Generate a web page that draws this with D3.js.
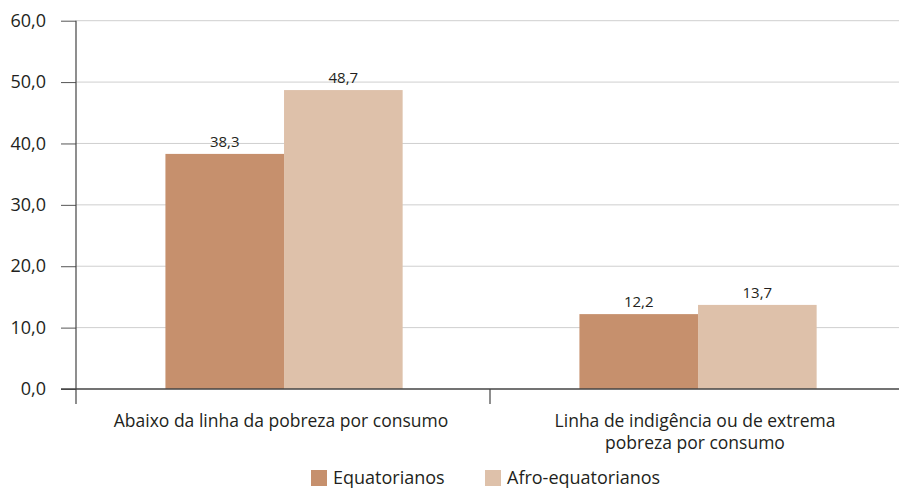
<!DOCTYPE html>
<html><head><meta charset="utf-8">
<script src="https://cdn.jsdelivr.net/npm/d3@7"></script>
<style>body{margin:0;background:#fff}svg{display:block}text{font-family:"Open Sans","Noto Sans",sans-serif;fill:#231f20}</style>
</head><body><svg id="c" width="899" height="489"></svg>
<script>
const categories = [["Abaixo da linha da pobreza por consumo"], ["Linha de indigência ou de extrema", "pobreza por consumo"]];
const seriesNames = ["Equatorianos", "Afro-equatorianos"];
const equatorianos = [38.3, 12.2];
const afroEquatorianos = [48.7, 13.7];
const yTicks = [0, 10, 20, 30, 40, 50, 60];
const colors = ["#c6906d", "#dec1aa"];
const unitLabel = "(Em %)";

(function () {
const svg = d3.select("#c");
const mL = 76, mR = 904, mT = 20.7, mB = 389;
const y = d3.scaleLinear().domain([0, 60]).range([mB, mT]);
const x0 = d3.scaleBand().domain(d3.range(categories.length)).range([mL, mR]).paddingInner(0).paddingOuter(0);
const x1 = d3.scaleBand().domain(d3.range(seriesNames.length)).range([x0.bandwidth()*0.216, x0.bandwidth()*0.789]);
const fmt = v => d3.format(".1f")(v).replace(".", ",");

svg.append("text").attr("x", 4).attr("y", -3).attr("font-size", 17).text(unitLabel);

svg.append("g").selectAll("line").data(yTicks.filter(d => d > 0)).join("line")
  .attr("x1", mL).attr("x2", 899).attr("y1", d => y(d)).attr("y2", d => y(d))
  .attr("stroke", "#cfcfcf").attr("stroke-width", 1);

const data = [equatorianos, afroEquatorianos];
const g = svg.append("g");
categories.forEach((c, i) => {
  data.forEach((s, j) => {
    const bx = x0(i) + x1(j);
    g.append("rect").attr("x", bx).attr("y", y(s[i])).attr("width", x1.bandwidth()).attr("height", y(0) - y(s[i])).attr("fill", colors[j]);
    g.append("text").attr("x", bx + x1.bandwidth()/2).attr("y", y(s[i]) - 7).attr("text-anchor", "middle").attr("font-size", 15).text(fmt(s[i]));
  });
});

const ya = d3.axisLeft(y).tickValues(yTicks).tickSize(15).tickFormat(fmt);
const yg = svg.append("g").attr("transform", `translate(${mL},0)`).call(ya);
yg.select(".domain").remove();
yg.selectAll(".tick line").attr("stroke", "#555");
yg.selectAll(".tick text").attr("x", -30).attr("font-size", 18).attr("fill", "#231f20").style("font-family", '"Open Sans","Noto Sans",sans-serif');
svg.append("line").attr("x1", mL).attr("x2", mL).attr("y1", mT).attr("y2", 404).attr("stroke", "#444").attr("stroke-width", 1.2);

svg.append("line").attr("x1", 61).attr("x2", 899).attr("y1", y(0)).attr("y2", y(0)).attr("stroke", "#444").attr("stroke-width", 1.4);
svg.append("line").attr("x1", x0(1)).attr("x2", x0(1)).attr("y1", y(0)).attr("y2", 404).attr("stroke", "#444").attr("stroke-width", 1.2);
categories.forEach((c, i) => {
  const t = svg.append("text").attr("text-anchor", "middle").attr("font-size", 17.5);
  c.forEach((line, k) => t.append("tspan").attr("x", x0(i) + x0.bandwidth()/2 - 2).attr("y", 427 + k*22).text(line));
});

const legX = [311, 485];
seriesNames.forEach((n, j) => {
  svg.append("rect").attr("x", legX[j]).attr("y", 470).attr("width", 16).attr("height", 16).attr("fill", colors[j]);
  svg.append("text").attr("x", legX[j] + 22).attr("y", 484).attr("font-size", 18).text(n);
});
})();
</script></body></html>
